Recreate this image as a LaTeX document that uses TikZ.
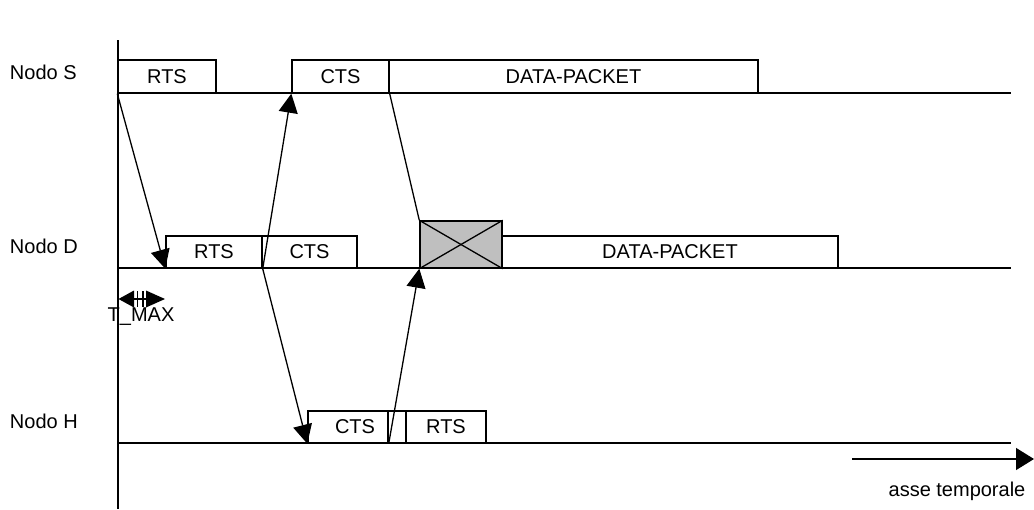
\documentclass[tikz,border=0pt]{standalone}
\usepackage{fontspec}
\setmainfont{Liberation Sans}
\usetikzlibrary{arrows.meta}
\begin{document}
\begin{tikzpicture}[x=1pt,y=-1pt,
  line width=1.3pt,
  every node/.style={font=\fontsize{20}{22}\selectfont},
  frame/.style={draw,rectangle,inner sep=0pt,line width=1.4pt},
  hit/.style={frame,fill=black!25},
  msg/.style={-{Triangle[length=19pt,width=19pt]}},
]
\useasboundingbox (0,0) rectangle (1034,509);

% time axis origin and node timelines
\coordinate (axT) at (118,40);
\coordinate (axB) at (118,509);
\coordinate (sL) at (118,93);   \coordinate (sR) at (1011,93);
\coordinate (dL) at (118,268);  \coordinate (dR) at (1011,268);
\coordinate (hL) at (118,443);  \coordinate (hR) at (1011,443);

\draw (axT) -- (axB);
\draw (sL) -- (sR);
\draw (dL) -- (dR);
\draw (hL) -- (hR);

% node names
\node[anchor=west] (nS) at (6,72) {Nodo S};
\node[anchor=west] (nD) at (6,246) {Nodo D};
\node[anchor=west] (nH) at (6,421) {Nodo H};

% frames sent by S
\node[frame,fill=white,minimum width=98pt,minimum height=33pt] (sRTS) at (167,76.5) {RTS};
\node[frame,fill=white,minimum width=97pt,minimum height=33pt] (sCTS) at (340.5,76.5) {CTS};
\node[frame,fill=white,minimum width=369pt,minimum height=33pt] (sDATA) at (573.5,76.5) {DATA-PACKET};

% frames at D
\node[frame,fill=white,minimum width=96pt,minimum height=32pt] (dRTS) at (214,252) {RTS};
\node[frame,fill=white,minimum width=95pt,minimum height=32pt] (dCTS) at (309.5,252) {CTS};
\node[hit,minimum width=82pt,minimum height=47pt] (dX) at (461,244.5) {};
\draw (dX.north west) -- (dX.south east);
\draw (dX.south west) -- (dX.north east);
\node[frame,fill=white,minimum width=336pt,minimum height=32pt] (dDATA) at (670,252) {DATA-PACKET};

% frames at H
\node[frame,fill=white,minimum width=80pt,minimum height=32pt] (hCTS) at (348,427) {\hspace{14pt}CTS};
\node[frame,fill=white,minimum width=18pt,minimum height=32pt] (hGap) at (397,427) {};
\node[frame,fill=white,minimum width=80pt,minimum height=32pt] (hRTS) at (446,427) {RTS\hspace{18pt}};

% propagation of the frames
\draw[msg] (sRTS.south west) -- (dRTS.south west);
\draw[msg] (dRTS.south east) -- (sCTS.south west);
\draw[msg] (dRTS.south east) -- (hCTS.south west);
\draw (sCTS.south east) -- (dX.north west);
\draw[msg] (hCTS.south east) -- (dX.south west);

% maximum delay marker: two filled heads joined by a short bar
\fill (118.5,299) -- (134,290.5) -- (134,307.5) -- cycle;
\fill (165,299) -- (146,290.5) -- (146,307.5) -- cycle;
\draw (134,299) -- (146,299);
\draw (137.5,291) -- (137.5,307);
\draw (143,291) -- (143,307);
\node (tmax) at (141,317) {T\_MAX};

% time direction
\coordinate (tS) at (852,459);
\coordinate (tE) at (1034,459);
\draw[-{Triangle[length=18pt,width=22pt]}] (tS) -- (tE);
\node (asse) at (957,491) {asse temporale};
\end{tikzpicture}
\end{document}
